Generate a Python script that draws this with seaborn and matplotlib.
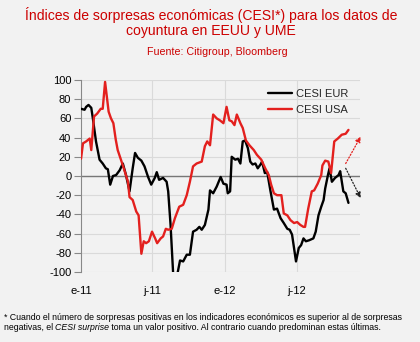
import matplotlib
matplotlib.use("Agg")
import matplotlib.pyplot as plt
import matplotlib.dates as mdates
import seaborn as sns
import pandas as pd

# ---- data ----
eur_dates = ["2011-01-01", "2011-01-10", "2011-01-14", "2011-01-20", "2011-01-27", "2011-01-31",
             "2011-02-08", "2011-02-17", "2011-02-25", "2011-03-05", "2011-03-10", "2011-03-16",
             "2011-03-23", "2011-03-31", "2011-04-09", "2011-04-17", "2011-04-25", "2011-05-04",
             "2011-05-12", "2011-05-18", "2011-05-25", "2011-06-03", "2011-06-11", "2011-06-20",
             "2011-06-28", "2011-07-07", "2011-07-12", "2011-07-18", "2011-07-28", "2011-08-06",
             "2011-08-10", "2011-08-16", "2011-08-23", "2011-09-01", "2011-09-09", "2011-09-17",
             "2011-09-26", "2011-10-04", "2011-10-12", "2011-10-21", "2011-10-28", "2011-11-03",
             "2011-11-11", "2011-11-20", "2011-11-24", "2011-12-02", "2011-12-11", "2011-12-21",
             "2011-12-28", "2012-01-05", "2012-01-08", "2012-01-14", "2012-01-18", "2012-01-27",
             "2012-02-03", "2012-02-09", "2012-02-15", "2012-02-21", "2012-02-28", "2012-03-05",
             "2012-03-11", "2012-03-18", "2012-03-24", "2012-03-31", "2012-04-04", "2012-04-11",
             "2012-04-17", "2012-04-25", "2012-05-04", "2012-05-12", "2012-05-21", "2012-05-29",
             "2012-06-07", "2012-06-13", "2012-06-19", "2012-06-24", "2012-06-29", "2012-07-06",
             "2012-07-12", "2012-07-18", "2012-07-24", "2012-08-01", "2012-08-12", "2012-08-18",
             "2012-08-25", "2012-09-01", "2012-09-07", "2012-09-11", "2012-09-18", "2012-09-22",
             "2012-09-28", "2012-10-06", "2012-10-15", "2012-10-19", "2012-10-27", "2012-11-02",
             "2012-11-09"]
eur_values = [70, 69, 72, 74, 71, 60,
              36, 17, 13, 8, 7, -9,
              0, 1, 6, 13, 1, -16,
              8, 24, 19, 16, 10, -1,
              -9, -2, 4, -4, -2, -6,
              -16, -51, -105, -105, -88, -89,
              -82, -82, -58, -56, -53, -56,
              -51, -35, -15, -18, -11, -1,
              -8, -9, -18, -16, 20, 17,
              18, 13, 36, 37, 29, 15,
              12, 13, 8, 12, 15, 3,
              4, -15, -35, -34, -44, -49,
              -55, -56, -61, -75, -89, -75,
              -72, -65, -68, -67, -65, -58,
              -41, -32, -25, -13, 1, 8,
              -6, -2, 1, 5, -16, -18,
              -28]

usa_dates = ["2011-01-01", "2011-01-06", "2011-01-14", "2011-01-23", "2011-01-27", "2011-02-03",
             "2011-02-11", "2011-02-20", "2011-02-25", "2011-03-03", "2011-03-12", "2011-03-18",
             "2011-03-24", "2011-03-30", "2011-04-04", "2011-04-13", "2011-04-21", "2011-04-30",
             "2011-05-04", "2011-05-12", "2011-05-21", "2011-05-27", "2011-06-03", "2011-06-09",
             "2011-06-15", "2011-06-22", "2011-06-30", "2011-07-08", "2011-07-13", "2011-07-22",
             "2011-07-28", "2011-08-04", "2011-08-10", "2011-08-19", "2011-08-27", "2011-09-07",
             "2011-09-17", "2011-09-26", "2011-10-04", "2011-10-12", "2011-10-21", "2011-11-03",
             "2011-11-11", "2011-11-17", "2011-11-24", "2011-12-02", "2011-12-11", "2011-12-19",
             "2011-12-28", "2012-01-05", "2012-01-12", "2012-01-18", "2012-01-25", "2012-01-31",
             "2012-02-09", "2012-02-15", "2012-02-23", "2012-03-03", "2012-03-14", "2012-03-22",
             "2012-04-02", "2012-04-12", "2012-04-21", "2012-04-27", "2012-05-04", "2012-05-12",
             "2012-05-23", "2012-05-29", "2012-06-07", "2012-06-15", "2012-06-24", "2012-07-02",
             "2012-07-10", "2012-07-18", "2012-07-22", "2012-07-30", "2012-08-08", "2012-08-14",
             "2012-08-23", "2012-09-01", "2012-09-04", "2012-09-11", "2012-09-19", "2012-09-26",
             "2012-10-04", "2012-10-13", "2012-10-23", "2012-11-02", "2012-11-09"]
usa_values = [18, 34, 36, 39, 27, 62,
              65, 70, 70, 98, 67, 60,
              55, 38, 27, 16, 6, -6,
              -22, -25, -37, -41, -81, -68,
              -70, -68, -58, -65, -70, -65,
              -63, -55, -56, -55, -44, -32,
              -30, -20, -6, 10, 13, 15,
              31, 36, 32, 64, 60, 58,
              55, 72, 58, 57, 53, 64,
              55, 50, 37, 32, 27, 22,
              17, 8, 1, -9, -18, -20,
              -20, -39, -41, -46, -49, -48,
              -51, -53, -53, -34, -16, -15,
              -8, 1, 11, 16, 15, 3,
              36, 39, 43, 44, 48]

series_labels = ["CESI EUR", "CESI USA"]
tick_dates = ["2011-01-01", "2011-07-01", "2012-01-01", "2012-07-01"]
tick_labels = ["e-11", "j-11", "e-12", "j-12"]
y_ticks = [100, 80, 60, 40, 20, 0, -20, -40, -60, -80, -100]

# projection arrows (start date, end date, start value, end value)
arrow_dates = ["2012-11-02", "2012-12-10"]
arrow_usa = [13, 41]
arrow_eur = [8, -23]

# ---- style ----
BG = "#F2F2F2"
RED = "#E3201E"
TITLE_RED = "#CC0000"
sns.set_style("white")
plt.rcParams["font.family"] = ["Liberation Sans", "DejaVu Sans"]
plt.rcParams["axes.unicode_minus"] = False

fig = plt.figure(figsize=(4.2, 3.42), dpi=100, facecolor=BG)
ax = fig.add_axes([0.1929, 0.2047, 0.664, 0.5614])
ax.set_facecolor(BG)

df_eur = pd.DataFrame({"fecha": pd.to_datetime(eur_dates), "valor": eur_values})
df_usa = pd.DataFrame({"fecha": pd.to_datetime(usa_dates), "valor": usa_values})

# grid
for yv in y_ticks:
    ax.axhline(yv, color="#DADADA", lw=0.8, zorder=0)
for td in tick_dates[1:]:
    ax.axvline(pd.Timestamp(td), color="#DADADA", lw=0.8, zorder=0)
ax.axhline(0, color="#777777", lw=1.0, zorder=1)

sns.lineplot(data=df_eur, x="fecha", y="valor", ax=ax, color="black", lw=1.7,
             label=series_labels[0], zorder=3)
sns.lineplot(data=df_usa, x="fecha", y="valor", ax=ax, color=RED, lw=1.7,
             label=series_labels[1], zorder=3)

# arrows
ad = [pd.Timestamp(d) for d in arrow_dates]
ax.annotate("", xy=(ad[1], arrow_usa[1]), xytext=(ad[0], arrow_usa[0]),
            arrowprops=dict(arrowstyle="-|>", color=RED, ls=(0, (1, 1.5)), lw=0.9,
                            mutation_scale=8, shrinkA=0, shrinkB=0),
            annotation_clip=False)
ax.annotate("", xy=(ad[1], arrow_eur[1]), xytext=(ad[0], arrow_eur[0]),
            arrowprops=dict(arrowstyle="-|>", color="#222222", ls=(0, (1, 1.5)), lw=0.9,
                            mutation_scale=8, shrinkA=0, shrinkB=0),
            annotation_clip=False)

ax.set_xlim(pd.Timestamp("2011-01-01"), pd.Timestamp("2012-12-08"))
ax.set_ylim(-100, 100)
ax.set_yticks(y_ticks)
ax.set_xticks([pd.Timestamp(d) for d in tick_dates])
ax.set_xticklabels(tick_labels)
ax.set_xlabel("")
ax.set_ylabel("")
ax.tick_params(axis="y", labelsize=8, length=5, width=0.8, color="#888888",
               direction="out", pad=2, left=True, labelcolor="black")
ax.tick_params(axis="x", labelsize=8, length=0, pad=10, labelcolor="black")
for s in ["top", "right", "bottom"]:
    ax.spines[s].set_visible(False)
ax.spines["left"].set_color("#888888")
ax.spines["left"].set_linewidth(0.8)

leg = ax.legend(loc="upper left", bbox_to_anchor=(0.67, 0.955), frameon=False,
                fontsize=8, handlelength=2.2, handletextpad=0.3, labelspacing=0.6,
                borderaxespad=0, borderpad=0)

# titles
fig.text(0.503, 0.956, "Índices de sorpresas económicas (CESI*) para los datos de",
         ha="center", va="center", fontsize=10.1, color=TITLE_RED)
fig.text(0.503, 0.909, "coyuntura en EEUU y UME",
         ha="center", va="center", fontsize=10.1, color=TITLE_RED)
fig.text(0.518, 0.848, "Fuente: Citigroup, Bloomberg",
         ha="center", va="center", fontsize=7.7, color=TITLE_RED)

# footnote
fs = 6.35
fig.text(0.0095, 0.073,
         "* Cuando el número de sorpresas positivas en los indicadores económicos es superior al de sorpresas",
         ha="left", va="center", fontsize=fs, color="black")
parts = [("negativas, el ", "normal"), ("CESI surprise", "italic"),
         (" toma un valor positivo. Al contrario cuando predominan estas últimas.", "normal")]
fig.canvas.draw()
renderer = fig.canvas.get_renderer()
xpix = 0.0095 * fig.bbox.width
for txt, style in parts:
    t = fig.text(xpix / fig.bbox.width, 0.041, txt, ha="left", va="center",
                 fontsize=fs, style=style, color="black")
    bb = t.get_window_extent(renderer=renderer)
    xpix = bb.x1

fig.savefig("out.png", dpi=100, facecolor=BG)
